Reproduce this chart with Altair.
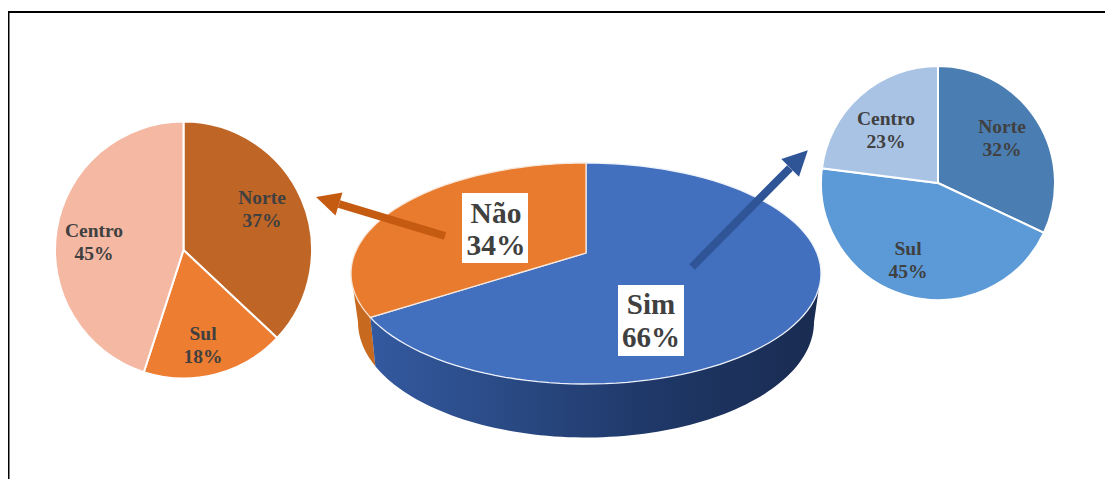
import math
import altair as alt

# ---- values ----
main_names = ["Sim", "Não"]
main_shares = [66, 34]
left_names = ["Norte", "Sul", "Centro"]
left_shares = [37, 18, 45]
right_names = ["Norte", "Sul", "Centro"]
right_shares = [32, 45, 23]

left_colors = ["#BF6526", "#ED7D31", "#F4B8A3"]
right_colors = ["#4A7DB1", "#5B9AD6", "#A9C3E5"]

SERIF = "Liberation Serif"
M = 8  # page margin
W, H = 1097, 471


def X(v):
    return v - M


def Y(v):
    return v - M


one = alt.Data(values=[{"k": 1}])


def polygon(points):
    pts = [[X(a), Y(b)] for a, b in points]
    pts.append(pts[0])
    return alt.InlineData(
        values={
            "type": "FeatureCollection",
            "features": [
                {"type": "Feature", "properties": {},
                 "geometry": {"type": "Polygon", "coordinates": [pts]}}
            ],
        },
        format=alt.DataFormat(property="features", type="json"),
    )


# perspective pie: top ellipse, its apex sits above the ellipse middle
cx, cy, rx, ry = 586, 273.5, 235, 110.5
apex = (586, 253)
bx, by, brx, bry = 586, 322, 228, 115.5
split = 246.6  # rim angle of the Sim/Não boundary as drawn, degrees clockwise from the top


def rim(t):
    a = math.radians(t)
    return (cx + rx * math.sin(a), cy - ry * math.cos(a))


def bottom(t):
    a = math.radians(t)
    return (bx + brx * math.sin(a), by - bry * math.cos(a))


def rng(a, b, n=90):
    return [a + (b - a) * i / n for i in range(n + 1)]


bottom_split = 247.5
sim_top = [apex] + [rim(t) for t in rng(0, split)]
nao_top = [apex] + [rim(t) for t in rng(split, 360)]
side_sim = [rim(90)] + [bottom(t) for t in rng(90, bottom_split)] + [rim(split), apex]
side_nao = [rim(split), bottom(bottom_split)] + [bottom(t) for t in rng(bottom_split, 270, 20)] + [rim(270)]


def shape(points, **kw):
    return alt.Chart(polygon(points)).mark_geoshape(**kw).project(
        type="identity", scale=1, translate=[0, 0])


side_gradient = alt.Gradient(
    gradient="linear", x1=0, x2=1, y1=0, y2=0,
    stops=[
        alt.GradientStop(color="#33599F", offset=0),
        alt.GradientStop(color="#2A4A85", offset=0.3),
        alt.GradientStop(color="#1F3868", offset=0.62),
        alt.GradientStop(color="#192B50", offset=1),
    ],
)


def pie(names, shares, colors, center, radius):
    data = alt.Data(values=[{"name": n, "share": s, "i": i}
                            for i, (n, s) in enumerate(zip(names, shares))])
    return alt.Chart(data).mark_arc(
        outerRadius=radius, stroke="white", strokeWidth=2
    ).encode(
        theta=alt.Theta("share:Q", stack=True, scale=alt.Scale(domain=[0, 100])),
        order=alt.Order("i:Q"),
        color=alt.Color("name:N", legend=None,
                        scale=alt.Scale(domain=names, range=colors)),
        x=alt.value(X(center[0])),
        y=alt.value(Y(center[1])),
    )


def label(name, share, x, y, size, line_height):
    data = alt.Data(values=[{"t": f"{name}\n{share}%"}])
    return alt.Chart(data).mark_text(
        font=SERIF, fontWeight="bold", fontSize=size, lineHeight=line_height,
        lineBreak="\n", align="center", baseline="alphabetic", color="#404040",
    ).encode(text="t:N", x=alt.value(X(x)), y=alt.value(Y(y)))


def box(x0, x1, y0, y1):
    return alt.Chart(one).mark_rect(color="white").encode(
        x=alt.value(X(x0)), x2=alt.value(X(x1)),
        y=alt.value(Y(y0)), y2=alt.value(Y(y1)))


def rule(x0, y0, x1, y1, color, width, cap="butt"):
    return alt.Chart(one).mark_rule(color=color, strokeWidth=width, strokeCap=cap).encode(
        x=alt.value(X(x0)), x2=alt.value(X(x1)),
        y=alt.value(Y(y0)), y2=alt.value(Y(y1)))


def head(x, y, angle, size, color):
    return alt.Chart(one).mark_point(
        shape="M0,-1L1,1L-1,1Z", filled=True, opacity=1, color=color,
        size=size, angle=angle, strokeWidth=0,
    ).encode(x=alt.value(X(x)), y=alt.value(Y(y)))


layers = [
    rule(M, 12, M + W, 12, "#000000", 2),
    rule(M + 0.5, 12, M + 0.5, M + H, "#000000", 2),
    shape(side_nao, fill="#C7691F", strokeWidth=0),
    shape(side_sim, fill=side_gradient, strokeWidth=0),
    shape(sim_top, fill="#4270BF", stroke="#EEF2FA", strokeWidth=1.3),
    shape(nao_top, fill="#E97B2F", stroke="#F7E7DA", strokeWidth=1.3),
    rule(445, 236, 339, 204, "#C55A11", 8),
    head(327.5, 200.5, 287, 576, "#C55A11"),
    rule(692, 267, 790, 168, "#2F5597", 8),
    head(799, 159, 45, 625, "#2F5597"),
    box(462, 528, 193, 263),
    box(618, 684, 285, 356),
    label(main_names[1], main_shares[1], 496, 223, 29.5, 32),
    label(main_names[0], main_shares[0], 651, 314, 29, 33),
    pie(left_names, left_shares, left_colors, (183.5, 250), 128.5),
    pie(right_names, right_shares, right_colors, (938, 183), 117),
    label(left_names[0], left_shares[0], 262, 204, 19.5, 23),
    label(left_names[1], left_shares[1], 203, 340, 19.5, 23),
    label(left_names[2], left_shares[2], 94, 237, 19.5, 23),
    label(right_names[0], right_shares[0], 1002, 133, 19.5, 23),
    label(right_names[1], right_shares[1], 908, 255, 19.5, 23),
    label(right_names[2], right_shares[2], 886, 125, 19.5, 23),
]

chart = alt.layer(*layers).resolve_scale(color="independent", theta="independent").properties(
    width=W, height=H, padding=0,
    autosize=alt.AutoSizeParams(type="none"),
    background="white",
).configure_view(stroke=None)

chart.save("out.html", embed_options={"renderer": "svg", "actions": False})
